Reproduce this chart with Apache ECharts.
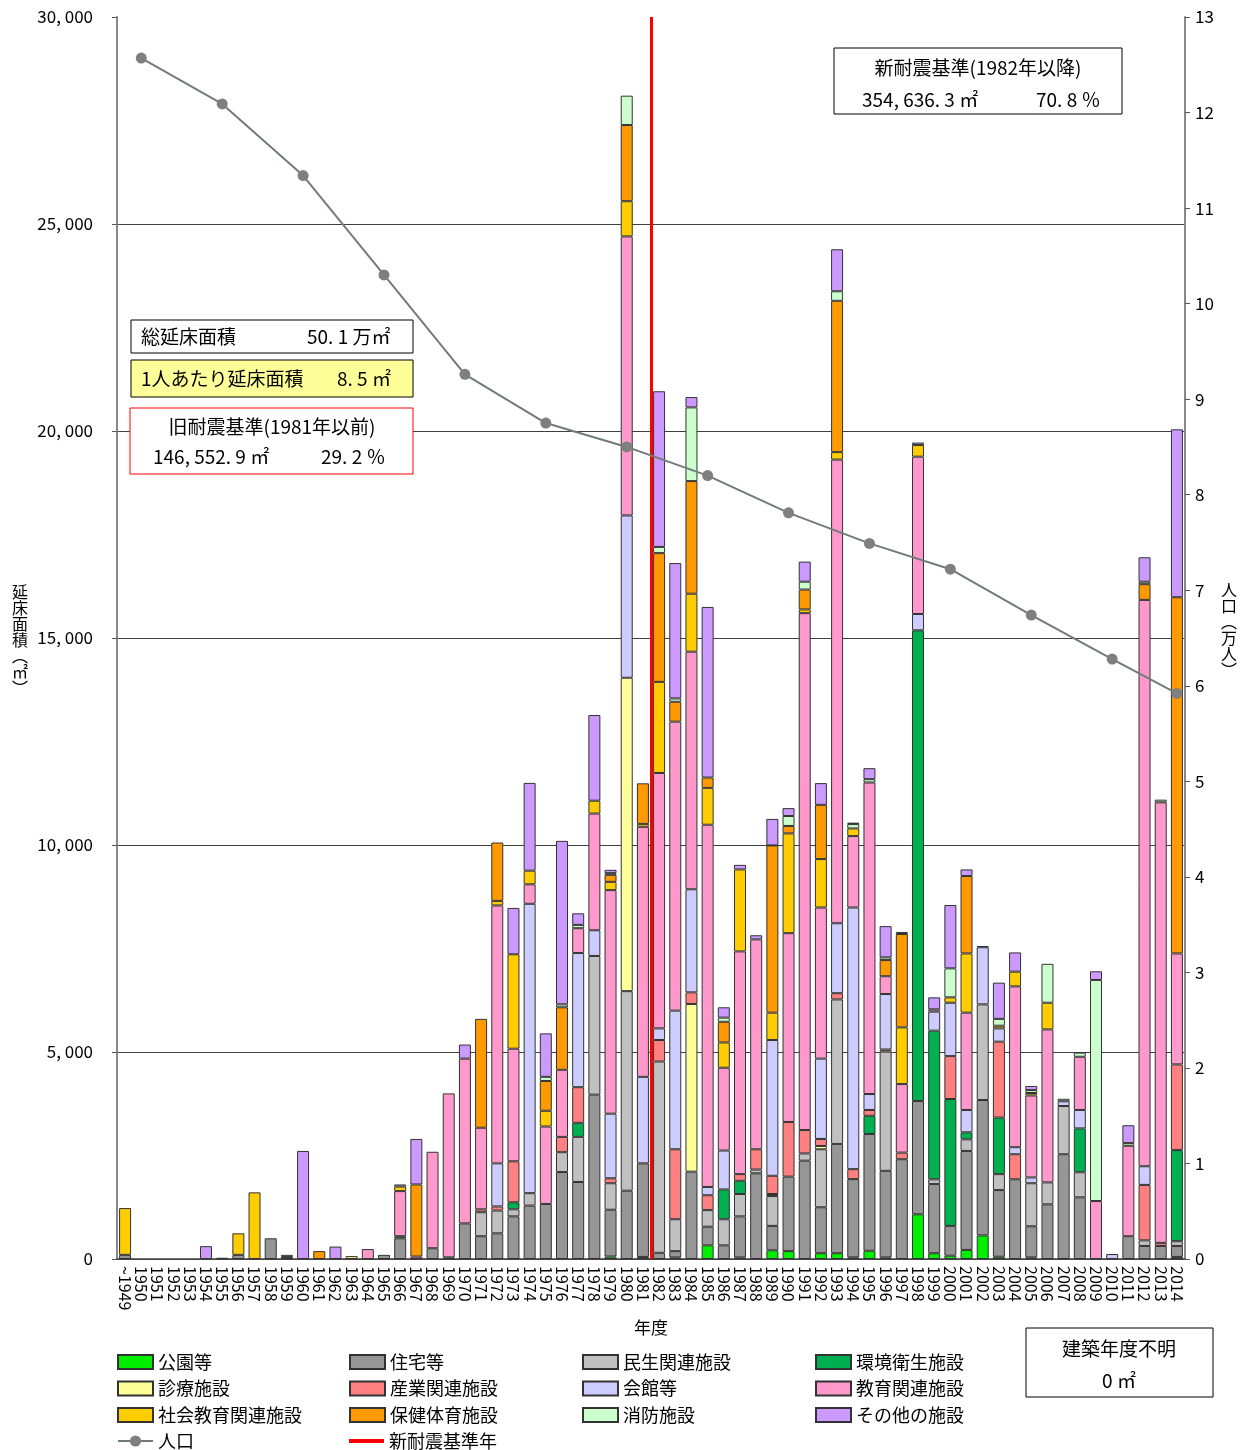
<!DOCTYPE html>
<html>
<head>
<meta charset="utf-8">
<script src="https://cdn.jsdelivr.net/npm/echarts@6/dist/echarts.min.js"></script>
<style>
  html, body { margin: 0; background: #fff; }
  #chart { width: 1250px; height: 1450px; }
</style>
</head>
<body>
<div id="chart"></div>
<script>
const years = [
  '~1949', '1950', '1951', '1952', '1953', '1954', '1955', '1956', '1957', '1958', '1959',
  '1960', '1961', '1962', '1963', '1964', '1965', '1966', '1967', '1968', '1969',
  '1970', '1971', '1972', '1973', '1974', '1975', '1976', '1977', '1978', '1979',
  '1980', '1981', '1982', '1983', '1984', '1985', '1986', '1987', '1988', '1989',
  '1990', '1991', '1992', '1993', '1994', '1995', '1996', '1997', '1998', '1999',
  '2000', '2001', '2002', '2003', '2004', '2005', '2006', '2007', '2008', '2009',
  '2010', '2011', '2012', '2013', '2014'
]

// 延床面積 (㎡) by category, one array per facility type (stack order)
const koen = [
  0, 0, 0, 0, 0, 0, 0, 0, 0, 0, 0,
  0, 0, 0, 0, 0, 0, 0, 0, 0, 40,
  0, 0, 0, 0, 0, 0, 0, 0, 0, 60,
  0, 50, 0, 40, 0, 330, 0, 40, 0, 210,
  190, 0, 140, 140, 40, 200, 40, 0, 1080, 140,
  80, 220, 570, 55, 0, 40, 0, 0, 0, 0,
  0, 0, 0, 0, 50
]
const jutaku = [
  100, 0, 0, 0, 0, 0, 30, 100, 0, 500, 50,
  0, 0, 0, 0, 0, 100, 500, 0, 260, 0,
  860, 550, 620, 1030, 1290, 1330, 2100, 1860, 3970, 1130,
  1650, 2260, 150, 150, 2110, 450, 330, 990, 2070, 590,
  1800, 2375, 1110, 2640, 1890, 2820, 2090, 2410, 2735, 1670,
  720, 2390, 3270, 1610, 1925, 750, 1320, 2530, 1490, 0,
  0, 550, 315, 315, 265
]
const minsei = [
  0, 0, 0, 0, 0, 0, 0, 0, 0, 0, 0,
  0, 0, 0, 0, 0, 0, 0, 0, 0, 0,
  0, 580, 550, 170, 300, 0, 480, 1090, 3350, 640,
  4820, 0, 4620, 770, 0, 400, 630, 540, 90, 720,
  0, 175, 1400, 3490, 0, 0, 2880, 0, 0, 115,
  0, 280, 2310, 385, 0, 1040, 530, 1165, 605, 0,
  0, 0, 135, 0, 115
]
const kankyo = [
  0, 0, 0, 0, 0, 0, 0, 0, 0, 0, 0,
  0, 0, 0, 0, 0, 0, 50, 0, 0, 0,
  0, 0, 0, 170, 0, 0, 0, 340, 0, 0,
  0, 0, 0, 0, 0, 0, 720, 320, 0, 50,
  0, 0, 0, 0, 0, 440, 0, 0, 11370, 3590,
  3065, 170, 0, 1365, 0, 0, 0, 0, 1060, 0,
  0, 0, 0, 0, 2200
]
const shinryo = [
  0, 0, 0, 0, 0, 0, 0, 0, 0, 0, 0,
  0, 0, 0, 70, 0, 0, 0, 0, 0, 0,
  0, 0, 0, 0, 0, 0, 0, 0, 0, 0,
  7570, 0, 0, 0, 4050, 0, 0, 0, 0, 0,
  0, 0, 80, 0, 0, 0, 0, 0, 0, 0,
  0, 0, 0, 0, 0, 0, 0, 0, 0, 0,
  0, 0, 0, 0, 0
]
const sangyo = [
  0, 0, 0, 0, 0, 0, 0, 0, 0, 0, 0,
  0, 0, 0, 0, 0, 0, 0, 60, 0, 0,
  0, 70, 100, 990, 0, 0, 370, 860, 0, 120,
  0, 0, 520, 1690, 280, 360, 0, 160, 490, 440,
  1320, 565, 170, 150, 240, 140, 50, 160, 0, 0,
  1035, 0, 0, 1835, 605, 0, 0, 0, 0, 0,
  0, 0, 1340, 75, 2070
]
const kaikan = [
  0, 0, 0, 0, 0, 0, 0, 0, 0, 0, 0,
  0, 0, 0, 0, 0, 0, 0, 0, 0, 0,
  0, 0, 1040, 0, 6990, 0, 0, 3240, 620, 1560,
  3920, 2090, 280, 3350, 2490, 200, 940, 0, 0, 3280,
  0, 0, 1940, 1690, 6320, 385, 1340, 0, 395, 460,
  1290, 540, 1380, 320, 170, 140, 0, 115, 445, 0,
  120, 0, 450, 0, 0
]
const kyoiku = [
  0, 0, 0, 0, 0, 0, 0, 0, 0, 0, 0,
  0, 0, 0, 0, 240, 0, 1090, 0, 2330, 3960,
  3980, 1970, 6230, 2720, 470, 1870, 1620, 600, 2820, 5400,
  6740, 6040, 6170, 6980, 5740, 8750, 2000, 5380, 5070, 0,
  4560, 12485, 3650, 11200, 1725, 7525, 430, 1655, 3800, 55,
  0, 2350, 0, 0, 3885, 1980, 3695, 0, 1285, 1400,
  0, 2185, 13680, 10640, 2680
]
const shakai = [
  1130, 0, 0, 0, 0, 0, 0, 520, 1610, 0, 0,
  0, 0, 0, 0, 0, 0, 110, 0, 0, 0,
  0, 0, 110, 2280, 330, 380, 0, 0, 310, 200,
  850, 70, 2200, 0, 1400, 890, 610, 1980, 0, 660,
  2410, 90, 1170, 180, 185, 0, 0, 1370, 280, 0,
  130, 1430, 0, 65, 355, 60, 645, 0, 0, 0,
  0, 0, 0, 0, 0
]
const hoken = [
  0, 0, 0, 0, 0, 0, 0, 0, 0, 0, 0,
  0, 190, 0, 0, 0, 0, 0, 1740, 0, 0,
  0, 2630, 1410, 0, 0, 720, 1510, 0, 0, 170,
  1840, 980, 3110, 480, 2720, 250, 500, 0, 0, 4040,
  180, 480, 1310, 3655, 0, 0, 390, 2255, 0, 0,
  0, 1870, 0, 0, 0, 0, 0, 0, 0, 0,
  0, 0, 380, 0, 8605
]
const shobo = [
  0, 0, 0, 0, 0, 0, 0, 0, 0, 0, 50,
  0, 0, 0, 0, 0, 0, 0, 0, 0, 0,
  0, 0, 0, 0, 0, 100, 70, 80, 0, 40,
  710, 0, 150, 80, 1780, 0, 100, 0, 0, 0,
  240, 190, 0, 230, 105, 80, 65, 50, 0, 0,
  700, 0, 0, 165, 0, 70, 940, 60, 100, 5340,
  0, 65, 60, 65, 0
]
const sonota = [
  0, 0, 0, 0, 0, 310, 0, 0, 0, 0, 0,
  2610, 0, 300, 0, 0, 0, 50, 1100, 0, 0,
  340, 0, 0, 1120, 2120, 1050, 3950, 280, 2070, 80,
  0, 0, 3760, 3270, 250, 4120, 250, 110, 100, 640,
  190, 485, 525, 1015, 35, 265, 755, 0, 60, 290,
  1530, 160, 30, 875, 465, 100, 0, 0, 0, 210,
  0, 430, 590, 0, 4055
]

// 人口 (万人), census years only
const population = [
  null, 12.57, null, null, null, null, 12.09, null, null, null, null,
  11.34, null, null, null, null, 10.3, null, null, null, null,
  9.26, null, null, null, null, 8.75, null, null, null, null,
  8.5, null, null, null, null, 8.2, null, null, null, null,
  7.81, null, null, null, null, 7.49, null, null, null, null,
  7.22, null, null, null, null, 6.74, null, null, null, null,
  6.28, null, null, null, 5.92
]

const FONT = '"Noto Sans CJK JP", "Noto Sans", sans-serif'

const barDefs = [
  { name: '公園等', data: koen, color: '#00ee00' },
  { name: '住宅等', data: jutaku, color: '#969696' },
  { name: '民生関連施設', data: minsei, color: '#c0c0c0' },
  { name: '環境衛生施設', data: kankyo, color: '#00b050' },
  { name: '診療施設', data: shinryo, color: '#ffff99' },
  { name: '産業関連施設', data: sangyo, color: '#ff8080' },
  { name: '会館等', data: kaikan, color: '#ccccff' },
  { name: '教育関連施設', data: kyoiku, color: '#ff99cc' },
  { name: '社会教育関連施設', data: shakai, color: '#ffcc00' },
  { name: '保健体育施設', data: hoken, color: '#ff9900' },
  { name: '消防施設', data: shobo, color: '#ccffcc' },
  { name: 'その他の施設', data: sonota, color: '#cc99ff' }
]

const barSeries = barDefs.map(d => ({
  name: d.name,
  type: 'bar',
  stack: 'area',
  barWidth: 12,
  data: d.data.map(v => (v === 0 ? '-' : v)),
  itemStyle: { color: d.color, borderColor: '#333', borderWidth: 1 },
  emphasis: { disabled: true }
}))

const quakeBoundary = years.indexOf('1982')

const legendText = { fontFamily: FONT, fontSize: 18, color: '#000' }
const legendItem = n => {
  if (n === '人口') return { name: n }
  if (n === '新耐震基準年') {
    return { name: n, icon: 'path://M0,0L36,0L36,4L0,4Z', itemStyle: { color: '#ff0000', borderWidth: 0 } }
  }
  return { name: n, icon: 'rect' }
}
const legendCol = (left, top, names, orient) => ({
  orient: orient || 'vertical',
  left: left,
  top: top,
  padding: 0,
  itemWidth: 35,
  itemHeight: 14,
  itemGap: 8.5,
  textStyle: legendText,
  data: names.map(legendItem)
})

const txt = (text, x, y, align, size) => ({
  type: 'text',
  style: {
    text: text, x: x, y: y,
    textAlign: align || 'left',
    textVerticalAlign: 'middle',
    font: (size || 19) + 'px ' + FONT,
    fill: '#000'
  },
  z: 100
})
const box = (x, y, w, h, stroke, fill) => ({
  type: 'rect',
  shape: { x: x, y: y, width: w, height: h },
  style: { fill: fill || '#fff', stroke: stroke || '#000', lineWidth: 1 },
  z: 99
})

const chart = echarts.init(document.getElementById('chart'))
chart.setOption({
  animation: false,
  grid: { left: 117, right: 65, top: 17, bottom: 191 },
  legend: [
    legendCol(117, 1353, ['公園等', '診療施設', '社会教育関連施設']),
    legendCol(349, 1353, ['住宅等', '産業関連施設', '保健体育施設']),
    legendCol(582, 1353, ['民生関連施設', '会館等', '消防施設']),
    legendCol(815, 1353, ['環境衛生施設', '教育関連施設', 'その他の施設']),
    legendCol(117, 1432, ['人口'], 'horizontal'),
    legendCol(349, 1432, ['新耐震基準年'], 'horizontal')
  ],
  xAxis: [
    {
      type: 'category',
      data: years,
      name: '年度',
      nameLocation: 'middle',
      nameGap: 60,
      nameTextStyle: { fontFamily: FONT, fontSize: 17, color: '#000' },
      axisLine: { lineStyle: { color: '#444', width: 1.5 } },
      axisTick: { alignWithLabel: true, length: 5, lineStyle: { color: '#666' } },
      axisLabel: {
        interval: 0,
        rotate: -90,
        margin: 7,
        fontFamily: FONT,
        fontSize: 16,
        color: '#000'
      }
    },
    { type: 'value', min: 0, max: years.length, show: false }
  ],
  yAxis: [
    {
      type: 'value',
      min: 0,
      max: 30000,
      interval: 5000,
      axisLine: { show: true, lineStyle: { color: '#888', width: 2 } },
      axisTick: { show: true, length: 5, lineStyle: { color: '#555' } },
      axisLabel: {
        margin: 24,
        fontFamily: FONT,
        fontSize: 17,
        color: '#000',
        formatter: v => v.toLocaleString('en-US').replace(',', ', ')
      },
      splitLine: { show: true, showMaxLine: false, lineStyle: { color: '#404040', width: 1 } }
    },
    {
      type: 'value',
      min: 0,
      max: 13,
      interval: 1,
      position: 'right',
      axisLine: { show: true, lineStyle: { color: '#888', width: 2 } },
      axisTick: { show: true, length: 5, lineStyle: { color: '#555' } },
      axisLabel: { margin: 10, fontFamily: FONT, fontSize: 17, color: '#000' },
      splitLine: { show: false }
    }
  ],
  series: barSeries.concat([
    {
      name: '新耐震基準年',
      type: 'line',
      xAxisIndex: 1,
      yAxisIndex: 0,
      data: [],
      symbol: 'none',
      itemStyle: { color: '#ff0000' },
      lineStyle: { color: '#ff0000', width: 4 },
      markLine: {
        silent: true,
        symbol: 'none',
        label: { show: false },
        lineStyle: { color: '#ff0000', width: 3, type: 'solid' },
        data: [{ xAxis: quakeBoundary }]
      },
      z: 5
    },
    {
      name: '人口',
      type: 'line',
      yAxisIndex: 1,
      data: population,
      connectNulls: true,
      symbol: 'circle',
      symbolSize: 11,
      itemStyle: { color: '#7f7f7f' },
      lineStyle: { color: '#6f7c79', width: 2 },
      z: 6
    }
  ]),
  graphic: [
    box(834, 48, 288, 66),
    txt('新耐震基準(1982年以降)', 978, 68, 'center'),
    txt('354, 636. 3 ㎡', 862, 100),
    txt('70. 8 ％', 1036, 100),

    box(131, 320, 282, 33),
    txt('総延床面積', 141, 337),
    txt('50. 1 万㎡', 307, 337),

    box(131, 360, 282, 37, '#000', '#ffff99'),
    txt('1人あたり延床面積', 141, 379),
    txt('8. 5 ㎡', 337, 379),

    box(130, 408, 283, 66, '#ff0000'),
    txt('旧耐震基準(1981年以前)', 272, 427, 'center'),
    txt('146, 552. 9 ㎡', 153, 457),
    txt('29. 2 ％', 321, 457),

    box(1026, 1328, 187, 69),
    txt('建築年度不明', 1119, 1349, 'center'),
    txt('0 ㎡', 1119, 1381, 'center'),

    txt('延\n床\n面\n積\n︵\n㎡\n︶', 20, 640, 'center', 16),
    txt('人\n口\n︵\n万\n人\n︶', 1229, 630, 'center', 16)
  ]
})
</script>
</body>
</html>
